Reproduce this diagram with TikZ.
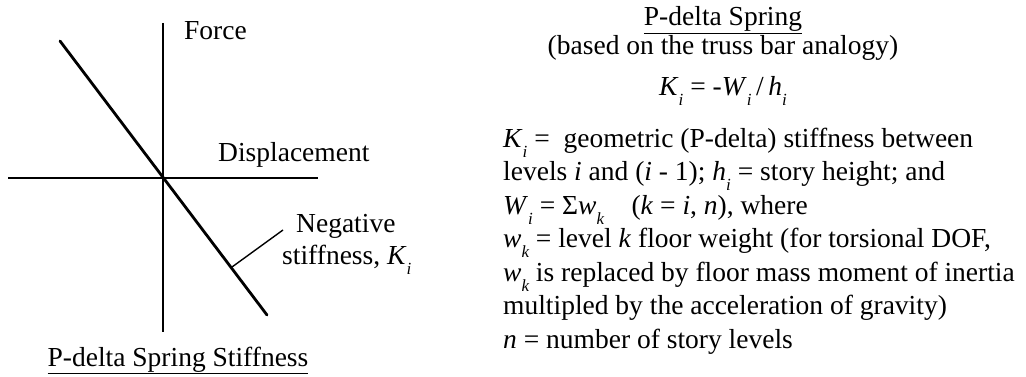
\documentclass[tikz,border=0pt]{standalone}
\usepackage{fontspec}
\setmainfont{Liberation Serif}
\usetikzlibrary{positioning}
% lowered italic index, set the way the original does it
\newcommand\lowix[1]{\raisebox{-10pt}{\fontsize{17}{17}\selectfont\itshape #1}}
\tikzset{txt/.style={inner sep=0pt,anchor=base west,font=\fontsize{27.5}{33.5}\selectfont},ctrtxt/.style={txt,anchor=base},axis/.style={line width=1.4pt},stiff/.style={line width=2.8pt,line cap=round},leader/.style={line width=1.4pt}}
\begin{document}
\begin{tikzpicture}[x=1pt,y=-1pt]
\useasboundingbox (0,0) rectangle (1026,377);
% force-displacement axes
\coordinate (ftop) at (163,23);\coordinate (fbot) at (163,332);\coordinate (dleft) at (8,178);\coordinate (dright) at (318,178);
\draw[axis] (ftop) -- (fbot);\draw[axis] (dleft) -- (dright);
\coordinate (ktop) at (60,41);\coordinate (kbot) at (267,315);
\draw[stiff] (ktop) -- (kbot);
\node[txt] (force) at (184,40) {Force};
\node[txt] (disp) at (218,162) {Displacement};
\node[txt] (neg) at (296,233) {Negative};
\node[txt] (negk) at (282,264) {stiffness, \textit{K}\lowix{i}};
\coordinate (lead) at (283,230);\coordinate (foot) at (232,267);
\draw[leader] (lead) -- (foot);
\node[ctrtxt] (ltitle) at (178,366) {\underline{P-delta Spring Stiffness}};
% P-delta spring definition
\node[ctrtxt] (rtitle) at (723,26) {\underline{P-delta Spring}};
\node[ctrtxt] (basis) at (723,55) {(based on the truss bar analogy)};
\node[ctrtxt] (formula) at (723,96) {\textit{K}\lowix{i} = -\textit{W}\lowix{i}\,/\,\textit{h}\lowix{i}};
\node[txt,align=left] (defs) at (503,348) {\textit{K}\lowix{i} =\ \ geometric (P-delta) stiffness between\\levels \textit{i} and (\textit{i} - 1); \textit{h}\lowix{i} = story height; and\\\textit{W}\lowix{i} = Σ\textit{w}\lowix{k}\quad(\textit{k} = \textit{i}, \textit{n}), where\\\textit{w}\lowix{k} = level \textit{k} floor weight (for torsional DOF,\\\textit{w}\lowix{k} is replaced by floor mass moment of inertia\\multipled by the acceleration of gravity)\\\textit{n} = number of story levels};
\end{tikzpicture}
\end{document}
